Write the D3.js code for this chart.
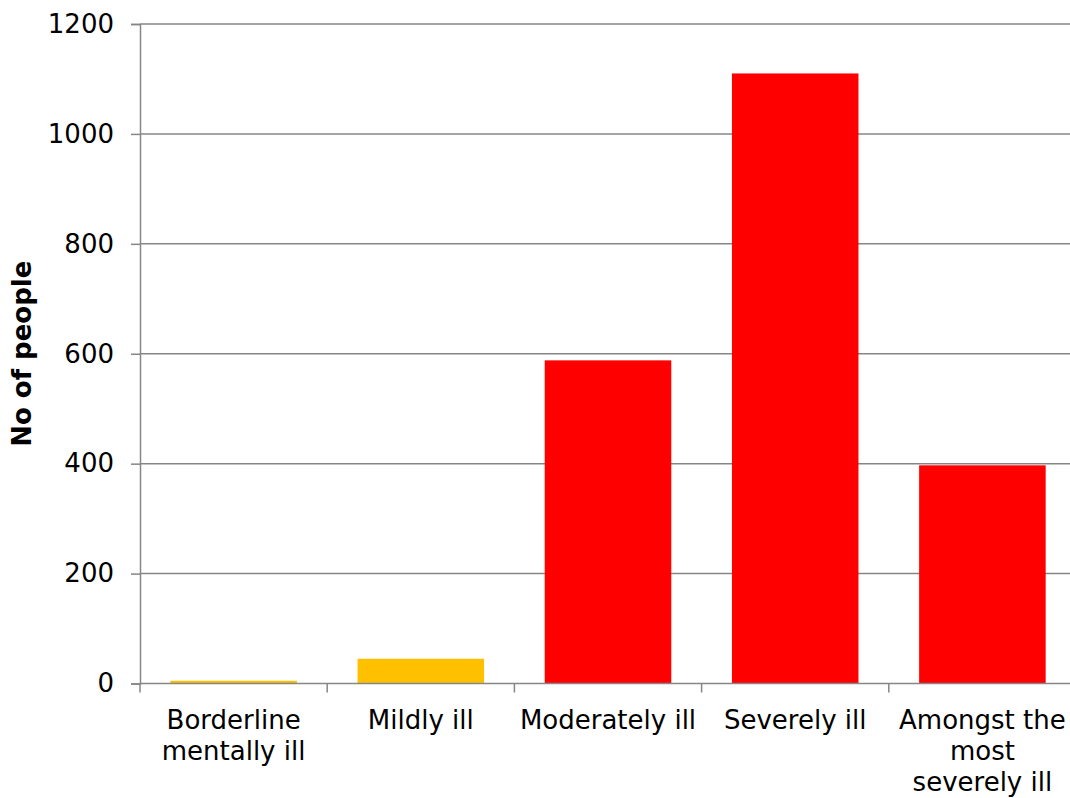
<!DOCTYPE html>
<html>
<head>
<meta charset="utf-8">
<script src="https://cdn.jsdelivr.net/npm/d3@7/dist/d3.min.js"></script>
<style>
  html, body { margin: 0; padding: 0; background: #fff; }
  svg { display: block; }
  text { font-family: "DejaVu Sans", Verdana, sans-serif; fill: #000; }
</style>
</head>
<body>
<svg id="chart" width="1070" height="798"></svg>
<script>
// Number of people by severity of mental illness
const categories = ["Borderline mentally ill", "Mildly ill", "Moderately ill", "Severely ill", "Amongst the most severely ill"];
const categoryLines = [["Borderline", "mentally ill"], ["Mildly ill"], ["Moderately ill"], ["Severely ill"], ["Amongst the", "most", "severely ill"]];
const values = [5, 45, 588, 1110, 397];
const barColors = ["#FFC000", "#FFC000", "#FF0000", "#FF0000", "#FF0000"];
const yTicks = [0, 200, 400, 600, 800, 1000, 1200];
const yTitle = "No of people";

const width = 1070, height = 798;
const margin = { top: 24, right: -6, bottom: 114.5, left: 140 };
const innerW = width - margin.left - margin.right;
const innerH = height - margin.top - margin.bottom;

const svg = d3.select("#chart");
const g = svg.append("g").attr("transform", `translate(${margin.left},${margin.top})`);

const x = d3.scaleBand()
  .domain(categories)
  .range([0, innerW])
  .paddingInner(0.324)
  .paddingOuter(0.162);

const y = d3.scaleLinear().domain([0, 1200]).range([innerH, 0]);

const gridColor = "#868686";
const fontSize = "26px";

// Horizontal gridlines
g.append("g")
  .selectAll("line")
  .data(yTicks.filter(d => d > 0))
  .join("line")
  .attr("x1", 0)
  .attr("x2", innerW)
  .attr("y1", d => y(d))
  .attr("y2", d => y(d))
  .attr("stroke", gridColor)
  .attr("stroke-width", 1.5);

// Bars
g.append("g")
  .selectAll("rect")
  .data(values)
  .join("rect")
  .attr("x", (d, i) => x(categories[i]))
  .attr("width", x.bandwidth())
  .attr("y", d => y(d))
  .attr("height", d => y(0) - y(d))
  .attr("fill", (d, i) => barColors[i]);

// Y axis
const yAxis = g.append("g")
  .call(d3.axisLeft(y).tickValues(yTicks).tickFormat(d3.format("d")).tickSize(9).tickPadding(17));
yAxis.select(".domain").attr("stroke", gridColor).attr("stroke-width", 1.5);
yAxis.selectAll(".tick line").attr("stroke", gridColor).attr("stroke-width", 1.5);
yAxis.selectAll(".tick text")
  .style("font-size", fontSize)
  .style("font-family", "'DejaVu Sans', Verdana, sans-serif")
  .attr("fill", "#000");

// X axis: baseline and category boundary ticks
const xAxisG = g.append("g").attr("transform", `translate(0,${innerH})`);
xAxisG.append("line")
  .attr("x1", 0).attr("x2", innerW)
  .attr("stroke", gridColor).attr("stroke-width", 1.5);
const step = x.step();
const boundaries = d3.range(categories.length + 1).map(i => i * step);
xAxisG.selectAll("line.tick")
  .data(boundaries)
  .join("line")
  .attr("class", "tick")
  .attr("x1", d => d).attr("x2", d => d)
  .attr("y1", 0).attr("y2", 9)
  .attr("stroke", gridColor).attr("stroke-width", 1.5);

// Category labels, one tspan per line
xAxisG.append("g")
  .selectAll("text")
  .data(categories)
  .join("text")
  .attr("text-anchor", "middle")
  .attr("y", 45)
  .style("font-size", fontSize)
  .each(function (name, i) {
    const cx = x(name) + x.bandwidth() / 2;
    d3.select(this).selectAll("tspan")
      .data(categoryLines[i])
      .join("tspan")
      .attr("x", cx)
      .attr("dy", (d, j) => (j === 0 ? 0 : 31))
      .text(d => d);
  });

// Y axis title
svg.append("text")
  .attr("transform", `translate(31,${margin.top + innerH / 2}) rotate(-90)`)
  .attr("text-anchor", "middle")
  .style("font-size", fontSize)
  .style("font-weight", "bold")
  .text(yTitle);
</script>
</body>
</html>
